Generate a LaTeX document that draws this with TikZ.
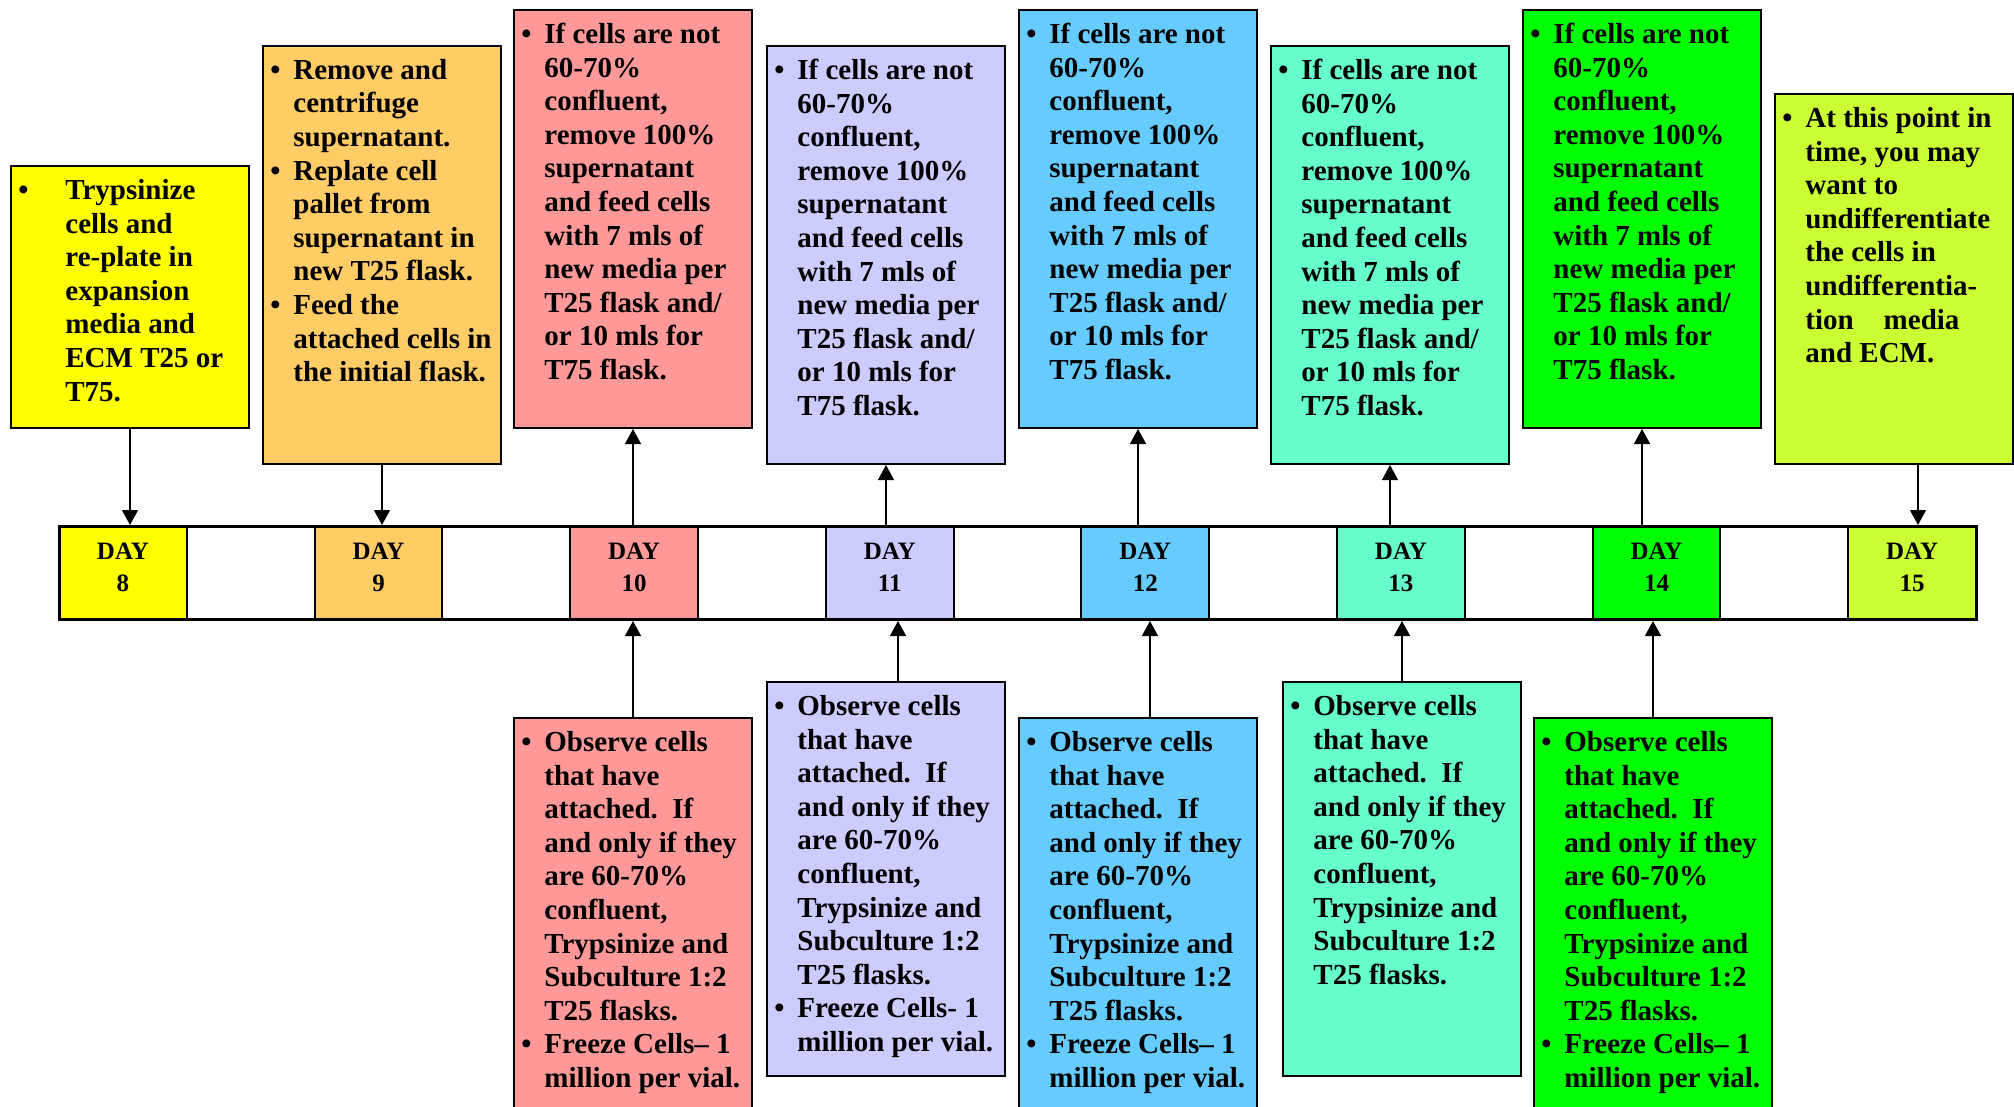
\documentclass[tikz,border=0pt]{standalone}
\usepackage{fontspec}
\setmainfont{Liberation Serif}
\usetikzlibrary{arrows.meta,calc}
\definecolor{cYel}{HTML}{FFFF00}
\definecolor{cOra}{HTML}{FFCC66}
\definecolor{cRed}{HTML}{FF9999}
\definecolor{cLav}{HTML}{CCCCFF}
\definecolor{cBlu}{HTML}{66CCFF}
\definecolor{cTea}{HTML}{66FFCC}
\definecolor{cGrn}{HTML}{00FF00}
\definecolor{cLim}{HTML}{CCFF33}
\newcommand{\bitem}{\rule{0pt}{12pt}\makebox[11.5pt][l]{\textbullet}}
\newcommand{\bcont}{\hspace*{11.5pt}}
\newcommand{\feedtext}{\bitem If cells are not\\\bcont 60-70\%\\\bcont confluent,\\\bcont remove 100\%\\\bcont supernatant\\\bcont and feed cells\\\bcont with 7 mls of\\\bcont new media per\\\bcont T25 flask and/\\\bcont or 10 mls for\\\bcont T75 flask.}
\newcommand{\obstext}{\bitem Observe cells\\\bcont that have\\\bcont attached.\ \ If\\\bcont and only if they\\\bcont are 60-70\%\\\bcont confluent,\\\bcont Trypsinize and\\\bcont Subculture 1:2\\\bcont T25 flasks.}
\begin{document}
\begin{tikzpicture}[x=0.5pt,y=-0.5pt,
  box/.style={draw, line width=1pt, inner sep=0pt, anchor=north west, minimum width=119pt},
  txt/.style={anchor=north west, inner sep=0pt, align=left, font=\fontsize{14.5pt}{16.8pt}\selectfont\bfseries},
  daycell/.style={draw, line width=1pt, inner sep=0pt, anchor=north west, minimum width=63.9pt, minimum height=46.5pt},
  daytxt/.style={anchor=north, inner sep=0pt, align=center, font=\fontsize{12.5pt}{16pt}\selectfont\bfseries},
  arr/.style={line width=0.65pt, -{Triangle[length=7.5pt,width=8pt]}}
]
\useasboundingbox (0,0) rectangle (2014,1107);
\fill[white] (0,0) rectangle (2014,1107);
\clip (0,0) rectangle (2014,1107);

% timeline
\node[daycell, fill=cYel] (c8)  at (58,525) {};
\node[daycell, fill=cOra] (c9)  at (313.6,525) {};
\node[daycell, fill=cRed] (c10) at (569.2,525) {};
\node[daycell, fill=cLav] (c11) at (824.8,525) {};
\node[daycell, fill=cBlu] (c12) at (1080.4,525) {};
\node[daycell, fill=cTea] (c13) at (1336,525) {};
\node[daycell, fill=cGrn] (c14) at (1591.6,525) {};
\node[daycell, fill=cLim] (c15) at (1847.2,525) {};
\node[draw, line width=1.5pt, inner sep=0pt, anchor=north west, minimum width=958.5pt, minimum height=46.5pt] (tl) at (58,525) {};
\foreach \d in {8,...,15}{
  \node[daytxt] (d\d) at ($(c\d.north)+(0,12)$) {\rule{0pt}{11pt}DAY\\\d};
}

% top boxes
\node[box, fill=cYel, minimum height=131pt] (t8) at (10,165) {};
\node[txt] (x8) at (18,175) {\rule{0pt}{12pt}\makebox[23.5pt][l]{\textbullet}Trypsinize\\\hspace*{23.5pt}cells and\\\hspace*{23.5pt}re-plate in\\\hspace*{23.5pt}expansion\\\hspace*{23.5pt}media and\\\hspace*{23.5pt}ECM T25 or\\\hspace*{23.5pt}T75.};

\node[box, fill=cOra, minimum height=209pt] (t9) at (262,45) {};
\node[txt] (x9) at (270,55) {\bitem Remove and\\\bcont centrifuge\\\bcont supernatant.\\\bitem Replate cell\\\bcont pallet from\\\bcont supernatant in\\\bcont new T25 flask.\\\bitem Feed the\\\bcont attached cells in\\\bcont the initial flask.};

\node[box, fill=cRed, minimum height=209pt] (t10) at (513,9) {};
\node[txt] (x10) at (521,19) {\feedtext};

\node[box, fill=cLav, minimum height=209pt] (t11) at (766,45) {};
\node[txt] (x11) at (774,55) {\feedtext};

\node[box, fill=cBlu, minimum height=209pt] (t12) at (1018,9) {};
\node[txt] (x12) at (1026,19) {\feedtext};

\node[box, fill=cTea, minimum height=209pt] (t13) at (1270,45) {};
\node[txt] (x13) at (1278,55) {\feedtext};

\node[box, fill=cGrn, minimum height=209pt] (t14) at (1522,9) {};
\node[txt] (x14) at (1530,19) {\feedtext};

\node[box, fill=cLim, minimum height=185pt] (t15) at (1774,93) {};
\node[txt] (x15) at (1782,103) {\bitem At this point in\\\bcont time, you may\\\bcont want to\\\bcont undifferentiate\\\bcont the cells in\\\bcont undifferentia-\\\bcont tion\hspace{15pt}media\\\bcont and ECM.};

% bottom boxes
\node[box, fill=cRed, minimum height=206.5pt] (b10) at (513,717) {};
\node[txt] (y10) at (521,727) {\obstext\\\bitem Freeze Cells-- 1\\\bcont million per vial.};

\node[box, fill=cLav, minimum height=197pt] (b11) at (766,681) {};
\node[txt] (y11) at (774,691) {\obstext\\\bitem Freeze Cells- 1\\\bcont million per vial.};

\node[box, fill=cBlu, minimum height=206.5pt] (b12) at (1018,717) {};
\node[txt] (y12) at (1026,727) {\obstext\\\bitem Freeze Cells-- 1\\\bcont million per vial.};

\node[box, fill=cTea, minimum height=197pt] (b13) at (1282,681) {};
\node[txt] (y13) at (1290,691) {\obstext};

\node[box, fill=cGrn, minimum height=206.5pt] (b14) at (1533,717) {};
\node[txt] (y14) at (1541,727) {\obstext\\\bitem Freeze Cells-- 1\\\bcont million per vial.};

% connectors: top
\draw[arr] (t8.south) -- (t8.south |- tl.north);
\draw[arr] (t9.south) -- (t9.south |- tl.north);
\draw[arr] (t10.south |- tl.north) -- (t10.south);
\draw[arr] (t11.south |- tl.north) -- (t11.south);
\draw[arr] (t12.south |- tl.north) -- (t12.south);
\draw[arr] (t13.south |- tl.north) -- (t13.south);
\draw[arr] (t14.south |- tl.north) -- (t14.south);
\draw[arr] ([xshift=12pt]t15.south) -- ([xshift=12pt]t15.south |- tl.north);

% connectors: bottom
\draw[arr] (b10.north) -- (b10.north |- tl.south);
\draw[arr] ([xshift=6pt]b11.north) -- ([xshift=6pt]b11.north |- tl.south);
\draw[arr] ([xshift=6pt]b12.north) -- ([xshift=6pt]b12.north |- tl.south);
\draw[arr] (b13.north) -- (b13.north |- tl.south);
\draw[arr] (b14.north) -- (b14.north |- tl.south);
\end{tikzpicture}
\end{document}
